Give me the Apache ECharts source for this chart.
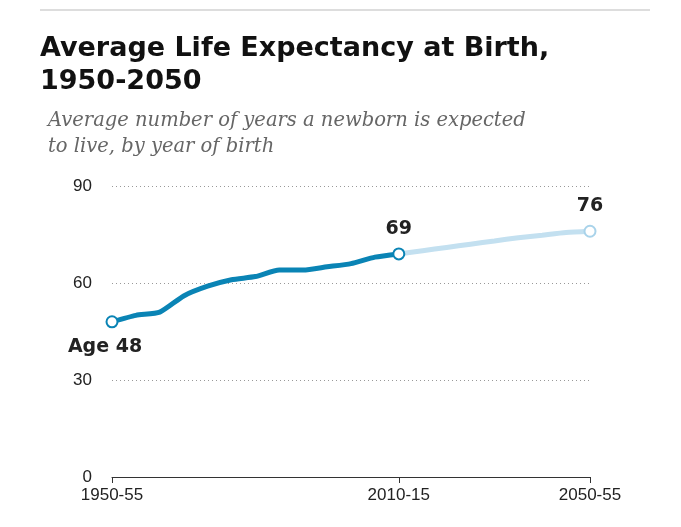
<!DOCTYPE html>
<html>
<head>
<meta charset="utf-8">
<script src="https://cdn.jsdelivr.net/npm/echarts@6/dist/echarts.min.js"></script>
<style>
  body { margin: 0; background: #fff; }
  #chart { width: 681px; height: 527px; }
</style>
</head>
<body>
<div id="chart"></div>
<script>
const periods = ['1950-55', '1955-60', '1960-65', '1965-70', '1970-75', '1975-80', '1980-85', '1985-90', '1990-95', '1995-00', '2000-05', '2005-10', '2010-15',
  '2015-20', '2020-25', '2025-30', '2030-35', '2035-40', '2040-45', '2045-50', '2050-55'];
const historic = [48, 50, 51, 56, 59, 61, 62, 64, 64, 65, 66, 68, 69];
const projected = [69, 70, 71, 72, 73, 74, 74.8, 75.6, 76];
const shownTicks = ['1950-55', '2010-15', '2050-55'];

const chart = echarts.init(document.getElementById('chart'));

// 把端点做成空心圆
const endPoint = (value, label, pos, color, offset) => ({
    value: value,
    symbol: 'circle',
    symbolSize: 11,
    itemStyle: { color: '#fff', borderColor: color, borderWidth: 2 },
    label: { show: true, formatter: label, position: pos, offset: offset || [0, 0], fontFamily: 'DejaVu Sans', fontWeight: 'bold', fontSize: 19, color: '#222', distance: 9 },
});

const histData = periods.map((p, i) => {
    if (i >= historic.length) return '-';
    if (i === 0) return endPoint(historic[i], 'Age 48', 'bottom', '#0a84b5', [-7, 0]);
    if (i === historic.length - 1) return endPoint(historic[i], '69', 'top', '#0a84b5');
    return historic[i];
});
const projStart = historic.length - 1;
const projData = periods.map((p, i) => {
    if (i < projStart) return '-';
    const v = projected[i - projStart];
    if (i === periods.length - 1) return endPoint(v, '76', 'top', '#a9d3ea');
    return v;
});

const option = {
    backgroundColor: '#fff',
    graphic: [
        { type: 'line', shape: { x1: 40, y1: 10, x2: 650, y2: 10 }, style: { stroke: '#bbb', lineWidth: 1 } },
        { type: 'text', left: 40, top: 32, style: { text: 'Average Life Expectancy at Birth,\n1950-2050', font: 'bold 27px "DejaVu Sans"', fill: '#111', lineHeight: 33 } },
        { type: 'text', left: 48, top: 108, style: { text: 'Average number of years a newborn is expected\nto live, by year of birth', font: 'italic 19.5px "DejaVu Serif"', fill: '#666', lineHeight: 26 } },
    ],
    grid: { left: 112, right: 91, top: 186, bottom: 50 },
    xAxis: {
        type: 'category',
        data: periods,
        boundaryGap: false,
        axisLine: { lineStyle: { color: '#333' } },
        axisTick: { show: true, length: 6, interval: (i, v) => shownTicks.includes(v), lineStyle: { color: '#333' } },
        axisLabel: { interval: (i, v) => shownTicks.includes(v), color: '#222', fontSize: 17, fontFamily: 'Liberation Sans', margin: 10 },
    },
    yAxis: {
        type: 'value',
        min: 0,
        max: 90,
        interval: 30,
        axisLine: { show: false },
        axisTick: { show: false },
        axisLabel: { color: '#222', fontSize: 17, fontFamily: 'Liberation Sans', margin: 20 },
        splitLine: { lineStyle: { color: '#999', type: [1, 3] } },
    },
    series: [
        {
            name: 'historic',
            type: 'line',
            data: histData,
            symbol: 'none',
            smooth: 0.2,
            lineStyle: { color: '#0a84b5', width: 5 },
            z: 3,
        },
        {
            name: 'projected',
            type: 'line',
            data: projData,
            symbol: 'none',
            smooth: 0.2,
            lineStyle: { color: '#c3e0f0', width: 5 },
            z: 2,
        },
    ],
};

chart.setOption(option);
</script>
</body>
</html>
